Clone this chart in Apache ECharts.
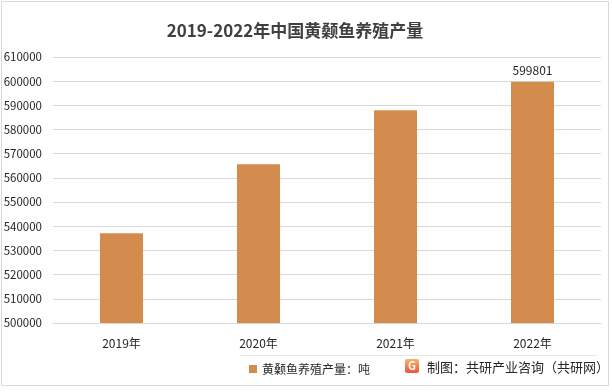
<!DOCTYPE html>
<html><head><meta charset="utf-8">
<script src="https://cdn.jsdelivr.net/npm/echarts@6/dist/echarts.min.js"></script>
<style>html,body{margin:0;padding:0;background:#fff}#c{width:612px;height:392px}</style>
</head><body><div id="c"></div>
<script>
const categories = ['2019年','2020年','2021年','2022年'];
const values = [537100, 565600, 588000, 599801];
const seriesName = '黄颡鱼养殖产量：吨';
const titleText = '2019-2022年中国黄颡鱼养殖产量';
const sourceText = '制图：共研产业咨询（共研网）';
const FONT = '"Noto Sans CJK SC", "Noto Sans", sans-serif';
const chart = echarts.init(document.getElementById('c'));
chart.setOption({
  animation: false,
  backgroundColor: '#fff',
  textStyle: {fontFamily: FONT},
  title: {text: titleText, left: 290, top: 17, textAlign: 'center',
    textStyle: {fontSize: 17, fontWeight: 'bold', color: '#404040', fontFamily: FONT}},
  grid: {left: 53, right: 11, top: 57, bottom: 69, containLabel: false},
  legend: {data: [seriesName], left: 244, top: 358, itemWidth: 8, itemHeight: 8, itemGap: 4,
    icon: 'rect', textStyle: {fontSize: 12, color: '#262626', fontFamily: FONT}},
  xAxis: {type: 'category', data: categories,
    axisLine: {show: true, lineStyle: {color: '#d9d9d9'}}, axisTick: {show: false},
    axisLabel: {color: '#262626', fontSize: 12, margin: 14, fontFamily: FONT}},
  yAxis: {type: 'value', min: 500000, max: 610000, interval: 10000,
    axisLine: {show: false}, axisTick: {show: false},
    splitLine: {lineStyle: {color: '#d9d9d9'}},
    axisLabel: {color: '#262626', fontSize: 11.5, margin: 11, fontFamily: FONT, formatter: v => String(v)}},
  series: [{name: seriesName, type: 'bar', data: values, barWidth: 43,
    itemStyle: {color: '#D48C4E'},
    label: {show: true, position: 'top', formatter: p => p.dataIndex === 3 ? String(p.value) : '',
      color: '#262626', fontSize: 12, distance: 5, fontFamily: FONT}}],
  graphic: [
    {type: 'rect', shape: {x: 1.5, y: 1.5, width: 607, height: 384}, style: {fill: null, stroke: '#d9d9d9', lineWidth: 1}, silent: true},
    {type: 'line', shape: {x1: 240, y1: 355.5, x2: 597, y2: 355.5}, style: {stroke: '#e6e6e6', lineWidth: 1}},
    {type: 'rect', shape: {x: 405, y: 359, width: 14, height: 14, r: 2},
      style: {fill: new echarts.graphic.LinearGradient(0,0,0,1,[{offset:0,color:'#f7b36a'},{offset:1,color:'#e9573a'}])}},
    {type: 'text', x: 412, y: 366, style: {text: 'G', fill: '#fff', fontSize: 11, fontWeight: 'bold', align: 'center', verticalAlign: 'middle', fontFamily: FONT}},
    {type: 'text', x: 427, y: 367, style: {text: sourceText, fill: '#262626', fontSize: 13, verticalAlign: 'middle', fontFamily: FONT}}
  ]
});
</script></body></html>
